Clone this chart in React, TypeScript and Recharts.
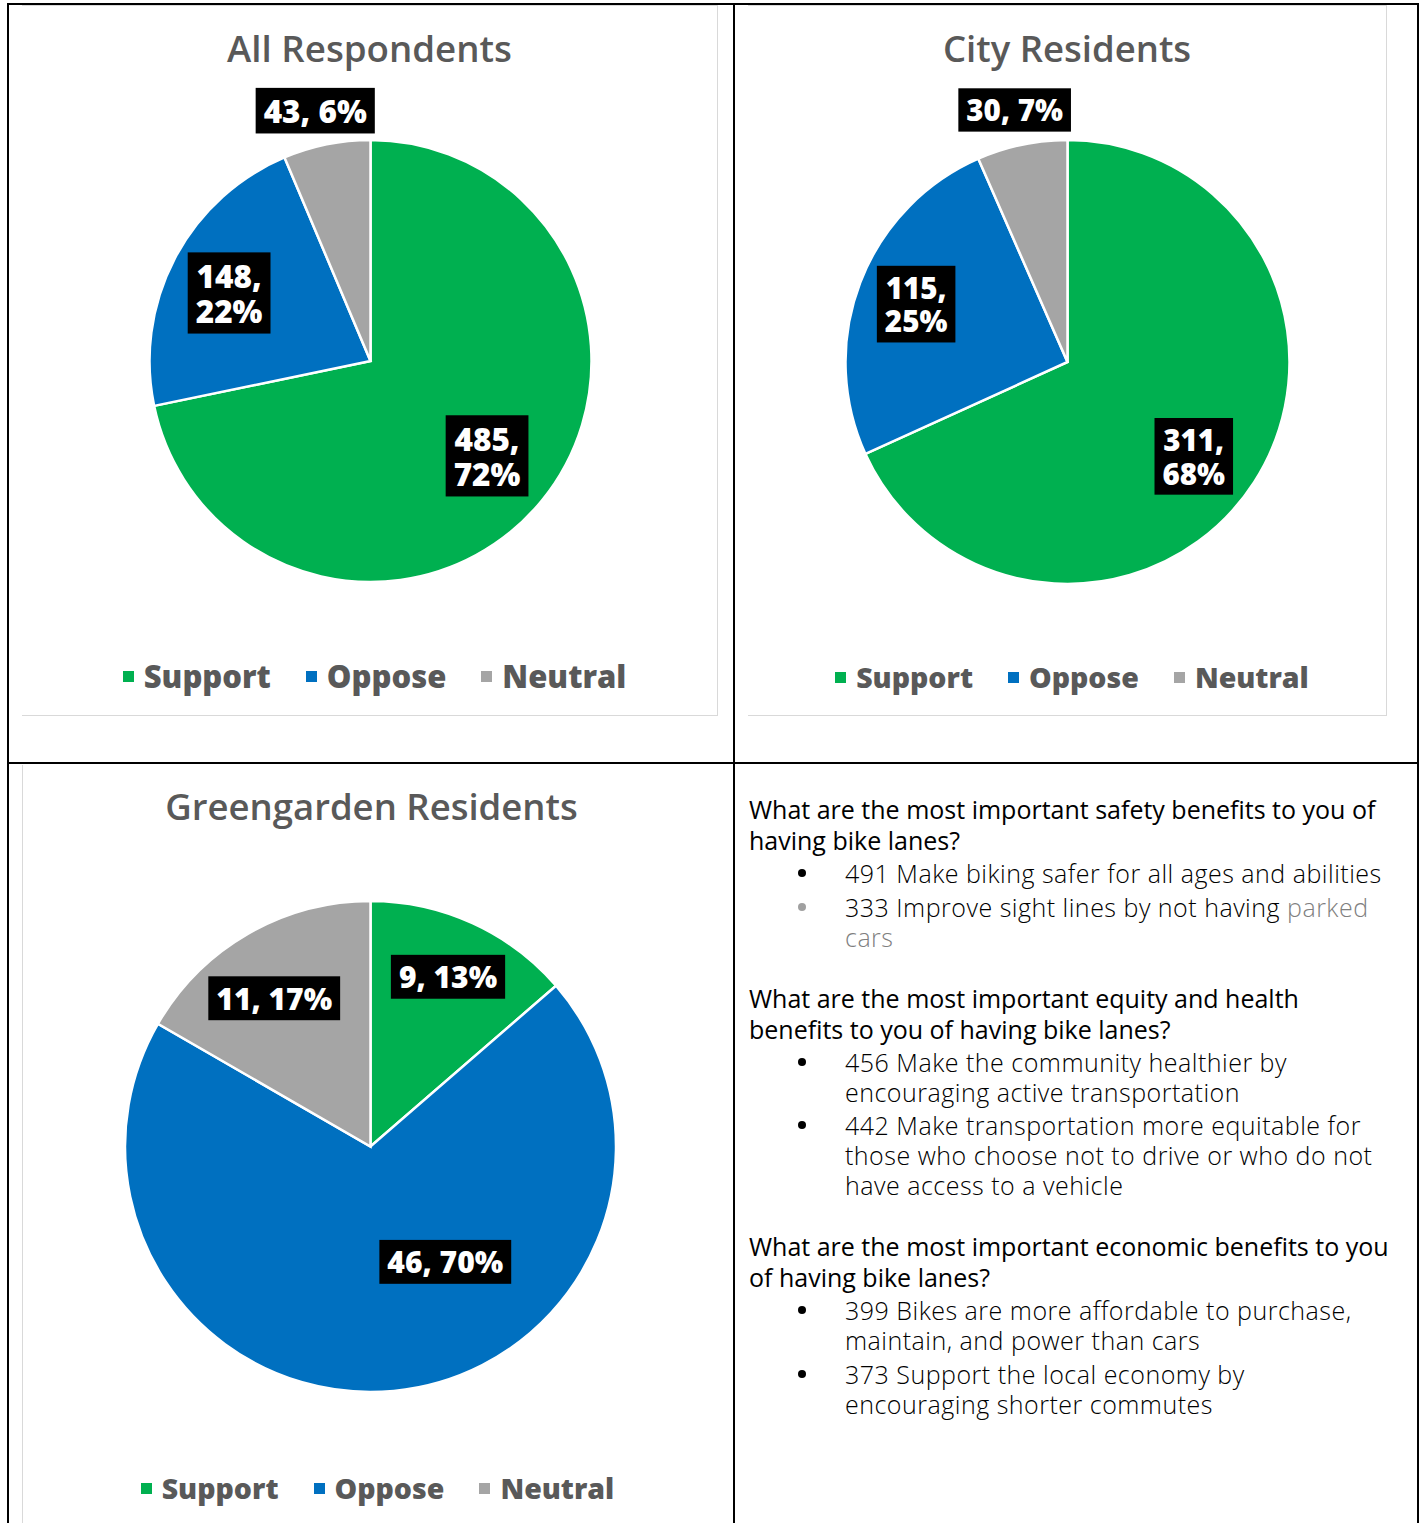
import React from 'react';
import { PieChart, Pie, Cell, Legend } from 'recharts';

// survey counts, order: Support, Oppose, Neutral
const categories = ['Support', 'Oppose', 'Neutral'];
const sliceColors = ['#00B050', '#0070C0', '#A5A5A5'];

const allCounts = [485, 148, 43];
const allPercents = [72, 22, 6];

const cityCounts = [311, 115, 30];
const cityPercents = [68, 25, 7];

const greenCounts = [9, 46, 11];
const greenPercents = [13, 70, 17];

const FONT = "'Open Sans', 'Noto Sans', sans-serif";
const RAD = Math.PI / 180;

let measureCtx: CanvasRenderingContext2D | null = null;
function textWidth(s: string, font: string) {
  if (!measureCtx) measureCtx = document.createElement('canvas').getContext('2d');
  if (!measureCtx) return s.length * 18;
  measureCtx.font = font;
  return measureCtx.measureText(s).width;
}

type Placement = { r: number; shift: number; wrap: boolean };

function makeLabel(counts: number[], percents: number[], placement: Placement[], fontSize: number) {
  return (props: any) => {
    const { cx, cy, midAngle, outerRadius, index } = props;
    const pl = placement[index];
    const a = (midAngle + pl.shift) * RAD;
    const x = cx + outerRadius * pl.r * Math.cos(a);
    const y = cy - outerRadius * pl.r * Math.sin(a);
    const lines = pl.wrap
      ? [`${counts[index]},`, `${percents[index]}%`]
      : [`${counts[index]}, ${percents[index]}%`];
    const font = `800 ${fontSize}px ${FONT}`;
    const padX = 8;
    const padY = 5;
    const lh = fontSize * 1.13;
    const w = Math.max(...lines.map((l) => textWidth(l, font))) + padX * 2;
    const h = lines.length * lh + padY * 2;
    return (
      <g>
        <rect x={x - w / 2} y={y - h / 2} width={w} height={h} fill="#000" />
        {lines.map((l, i) => (
          <text
            key={i}
            x={x}
            y={y - h / 2 + padY + lh * (i + 0.5)}
            textAnchor="middle"
            dominantBaseline="central"
            fill="#fff"
            fontFamily={FONT}
            fontWeight={800}
            fontSize={fontSize}
          >
            {l}
          </text>
        ))}
      </g>
    );
  };
}

type ChartProps = {
  title: string;
  counts: number[];
  percents: number[];
  width: number;
  height: number;
  cx: number;
  cy: number;
  radius: number;
  titleY: number;
  titleSize: number;
  legendY: number;
  legendSize: number;
  legendShift: number;
  labelSize: number;
  placement: Placement[];
};

function SurveyPie(p: ChartProps) {
  const data = categories.map((name, i) => ({ name, value: p.counts[i], fill: sliceColors[i] }));

  const renderLegend = () => (
    <div
      style={{
        display: 'flex',
        justifyContent: 'center',
        alignItems: 'center',
        paddingLeft: p.legendShift * 2,
        fontFamily: FONT,
        fontWeight: 800,
        fontSize: p.legendSize,
        color: '#595959',
        lineHeight: 1,
      }}
    >
      {categories.map((c, i) => (
        <div key={c} style={{ display: 'flex', alignItems: 'center', marginRight: i < 2 ? 35 : 0 }}>
          <span style={{ width: 11, height: 11, background: sliceColors[i], marginRight: 10, display: 'inline-block' }} />
          <span>{c}</span>
        </div>
      ))}
    </div>
  );

  return (
    <div style={{ position: 'relative', width: p.width, height: p.height }}>
      <div
        style={{
          position: 'absolute',
          left: 0,
          width: p.width,
          top: p.titleY - p.titleSize * 0.7,
          textAlign: 'center',
          fontFamily: FONT,
          fontWeight: 600,
          fontSize: p.titleSize,
          color: '#595959',
          lineHeight: `${p.titleSize * 1.4}px`,
          whiteSpace: 'nowrap',
        }}
      >
        {p.title}
      </div>
      <PieChart
        width={p.width}
        height={p.height}
        margin={{ top: 0, right: 0, bottom: 0, left: 0 }}
        style={{ position: 'absolute', left: 0, top: 0 }}
      >
        <Pie
          data={data}
          dataKey="value"
          nameKey="name"
          cx={p.cx}
          cy={p.cy}
          outerRadius={p.radius}
          startAngle={90}
          endAngle={-270}
          stroke="#fff"
          strokeWidth={2.5}
          isAnimationActive={false}
          labelLine={false}
          label={makeLabel(p.counts, p.percents, p.placement, p.labelSize)}
        >
          {data.map((d, i) => (
            <Cell key={`cell-${i}`} fill={sliceColors[i]} />
          ))}
        </Pie>
        <Legend
          content={renderLegend}
          wrapperStyle={{ top: p.legendY - p.legendSize / 2, left: 0, width: p.width, height: p.legendSize }}
        />
      </PieChart>
    </div>
  );
}

type Seg = { t: string; gray?: boolean };
type Item = { gray?: boolean; lines: Seg[][] };
type Question = { q: string[]; items: Item[] };

const questions: Question[] = [
  {
    q: ['What are the most important safety benefits to you of', 'having bike lanes?'],
    items: [
      { lines: [[{ t: '491 Make biking safer for all ages and abilities' }]] },
      {
        gray: true,
        lines: [
          [{ t: '333 Improve sight lines by not having ' }, { t: 'parked', gray: true }],
          [{ t: 'cars', gray: true }],
        ],
      },
    ],
  },
  {
    q: ['What are the most important equity and health', 'benefits to you of having bike lanes?'],
    items: [
      {
        lines: [
          [{ t: '456 Make the community healthier by' }],
          [{ t: 'encouraging active transportation' }],
        ],
      },
      {
        lines: [
          [{ t: '442 Make transportation more equitable for' }],
          [{ t: 'those who choose not to drive or who do not' }],
          [{ t: 'have access to a vehicle' }],
        ],
      },
    ],
  },
  {
    q: ['What are the most important economic benefits to you', 'of having bike lanes?'],
    items: [
      {
        lines: [
          [{ t: '399 Bikes are more affordable to purchase,' }],
          [{ t: 'maintain, and power than cars' }],
        ],
      },
      {
        lines: [
          [{ t: '373 Support the local economy by' }],
          [{ t: 'encouraging shorter commutes' }],
        ],
      },
    ],
  },
];

function BenefitsText() {
  return (
    <div style={{ position: 'absolute', left: 749, top: 794, width: 660, fontFamily: FONT }}>
      {questions.map((qq, qi) => (
        <div key={qi} style={{ marginTop: qi === 0 ? 0 : 31 }}>
          {qq.q.map((l, i) => (
            <div
              key={i}
              style={{ fontSize: 25, lineHeight: '31px', color: '#000', letterSpacing: 0, whiteSpace: 'nowrap' }}
            >
              {l}
            </div>
          ))}
          <div style={{ marginTop: 2 }}>
            {qq.items.map((it, ii) => (
              <div key={ii} style={{ position: 'relative', marginTop: ii === 0 ? 0 : 3.5, paddingLeft: 96 }}>
                <span
                  style={{
                    position: 'absolute',
                    left: 49,
                    top: 11,
                    width: 8,
                    height: 8,
                    borderRadius: 4,
                    background: it.gray ? '#a0a0a0' : '#000',
                  }}
                />
                {it.lines.map((segs, li) => (
                  <div
                    key={li}
                    style={{
                      fontSize: 25,
                      fontWeight: 300,
                      lineHeight: '30px',
                      letterSpacing: 0.5,
                      whiteSpace: 'nowrap',
                      color: '#000',
                    }}
                  >
                    {segs.map((s, si) => (
                      <span key={si} style={{ color: s.gray ? '#7f7f7f' : '#000' }}>
                        {s.t}
                      </span>
                    ))}
                  </div>
                ))}
              </div>
            ))}
          </div>
        </div>
      ))}
    </div>
  );
}

const line = (left: number, top: number, width: number, height: number, color = '#000') => (
  <div style={{ position: 'absolute', left, top, width, height, background: color }} />
);

export default function App() {
  return (
    <div
      style={{
        position: 'absolute',
        left: 0,
        top: 0,
        width: 1421,
        height: 1523,
        background: '#fff',
        overflow: 'hidden',
      }}
    >
      {/* chart frames */}
      <div
        style={{
          position: 'absolute',
          left: 22,
          top: 5,
          width: 696,
          height: 711,
          borderTop: '1px solid #d9d9d9',
          borderRight: '1px solid #d9d9d9',
          borderBottom: '1px solid #d9d9d9',
          boxSizing: 'border-box',
        }}
      >
        <SurveyPie
          title="All Respondents"
          counts={allCounts}
          percents={allPercents}
          width={695}
          height={709}
          cx={348.5}
          cy={355}
          radius={221}
          titleY={43}
          titleSize={36.7}
          legendY={670}
          legendSize={31}
          legendShift={5}
          labelSize={31.5}
          placement={[
            { r: 0.68, shift: 0, wrap: true },
            { r: 0.71, shift: 2, wrap: true },
            { r: 1.16, shift: 1, wrap: false },
          ]}
        />
      </div>
      <div
        style={{
          position: 'absolute',
          left: 748,
          top: 5,
          width: 639,
          height: 711,
          borderTop: '1px solid #d9d9d9',
          borderRight: '1px solid #d9d9d9',
          borderBottom: '1px solid #d9d9d9',
          boxSizing: 'border-box',
        }}
      >
        <SurveyPie
          title="City Residents"
          counts={cityCounts}
          percents={cityPercents}
          width={638}
          height={709}
          cx={319.5}
          cy={356}
          radius={222}
          titleY={43}
          titleSize={36.5}
          legendY={671}
          legendSize={28.5}
          legendShift={5}
          labelSize={29.5}
          placement={[
            { r: 0.71, shift: -4, wrap: true },
            { r: 0.73, shift: 0, wrap: true },
            { r: 1.16, shift: 0, wrap: false },
          ]}
        />
      </div>
      <div
        style={{
          position: 'absolute',
          left: 22,
          top: 765,
          width: 698,
          height: 758,
          borderLeft: '1px solid #d9d9d9',
          boxSizing: 'border-box',
        }}
      >
        <SurveyPie
          title="Greengarden Residents"
          counts={greenCounts}
          percents={greenPercents}
          width={697}
          height={758}
          cx={347.5}
          cy={381.5}
          radius={245.5}
          titleY={42}
          titleSize={36.5}
          legendY={723}
          legendSize={28.5}
          legendShift={6}
          labelSize={30}
          placement={[
            { r: 0.76, shift: 0, wrap: false },
            { r: 0.56, shift: 27.5, wrap: false },
            { r: 0.72, shift: 3, wrap: false },
          ]}
        />
      </div>

      <BenefitsText />

      {/* table grid */}
      {line(7, 3, 1412, 2)}
      {line(7, 3, 2, 1520)}
      {line(1417, 3, 2, 1520)}
      {line(733, 3, 2, 1520)}
      {line(7, 762, 1412, 2)}
    </div>
  );
}
